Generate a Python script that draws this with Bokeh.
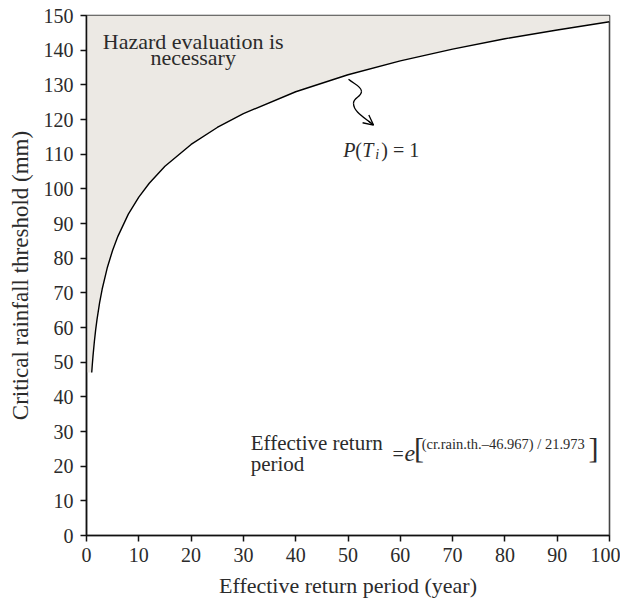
from bokeh.plotting import figure
from bokeh.models import FixedTicker, Arrow, OpenHead, Range1d
from bokeh.core.properties import value
from bokeh.embed import file_html
from bokeh.resources import INLINE

# Data
return_period = [1, 1.1, 1.25, 1.5, 1.75, 2, 2.5, 3, 4, 5, 6, 8, 10, 12, 15,
                 20, 25, 30, 40, 50, 60, 70, 80, 90, 100]
threshold = [47.0, 49.1, 51.9, 55.9, 59.3, 62.2, 67.1, 71.1, 77.4, 82.3, 86.3,
             92.7, 97.6, 101.6, 106.5, 112.8, 117.7, 121.7, 128.0, 132.9,
             136.9, 140.3, 143.3, 145.8, 148.2]
x_ticks = [0, 10, 20, 30, 40, 50, 60, 70, 80, 90, 100]
y_ticks = [0, 10, 20, 30, 40, 50, 60, 70, 80, 90, 100, 110, 120, 130, 140, 150]
x_min, x_max = 0, 100
y_min, y_max = 0, 150

FONT = "Liberation Serif"
TXT = "#2b2b2b"

p = figure(width=620, height=600,
           min_border_left=86, min_border_right=11, min_border_top=15, min_border_bottom=63,
           x_range=Range1d(x_min, x_max), y_range=Range1d(y_min, y_max),
           output_backend="svg", toolbar_location=None,
           background_fill_color="white", border_fill_color="white")
p.grid.visible = False
p.outline_line_color = "#444444"
p.outline_line_width = 1.6

for ax in (p.xaxis[0], p.yaxis[0]):
    ax.axis_line_color = "#111111"
    ax.axis_line_width = 1.5
    ax.major_tick_line_color = "#111111"
    ax.major_tick_line_width = 1.5
    ax.major_tick_out = 6
    ax.major_tick_in = 0
    ax.minor_tick_line_color = None
    ax.major_label_text_font = FONT
    ax.major_label_text_font_size = "20px"
    ax.major_label_text_color = TXT
    ax.axis_label_text_font = FONT
    ax.axis_label_text_font_style = "normal"
    ax.axis_label_text_color = TXT

p.xaxis.axis_label_text_font_size = "22px"
p.yaxis.axis_label_text_font_size = "23px"
p.xaxis.ticker = FixedTicker(ticks=x_ticks)
p.yaxis.ticker = FixedTicker(ticks=y_ticks)
p.xaxis.axis_label = "Effective return period (year)"
p.yaxis.axis_label = "Critical rainfall threshold (mm)"
p.xaxis.major_label_standoff = 6
p.yaxis.major_label_standoff = 7
p.xaxis.axis_label_standoff = 8
p.yaxis.axis_label_standoff = 8

# shaded region above the curve
fill_x = [x_min] + return_period + [x_max, x_min]
fill_y = [threshold[0]] + threshold + [y_max, y_max]
p.patch(fill_x, fill_y, fill_color="#ECE9E4", line_color=None)

# curve
p.line(return_period, threshold, line_color="black", line_width=1.4)

# texts
def txt(x, y, s, size, align="left", baseline="alphabetic", style="normal", xo=0, yo=0):
    p.text(x=[x], y=[y], text=[s], text_font=value(FONT), text_font_size=size,
           text_align=align, text_baseline=baseline, text_font_style=style,
           text_color=TXT, x_offset=xo, y_offset=yo)

txt(20.4, 142.4, "Hazard evaluation is", "22px", align="center")
txt(20.4, 137.8, "necessary", "22px", align="center")

# P(T_i) = 1
px0, py0 = 49.1, 111.1
txt(px0, py0, "P", "20px", style="italic")
txt(px0, py0, "(", "20px", xo=12)
txt(px0, py0, "T", "20px", style="italic", xo=19)
txt(px0, py0, "i", "14px", style="italic", xo=32, yo=4)
txt(px0, py0, ") = 1", "20px", xo=38)

# formula
txt(31.4, 26.6, "Effective return", "21px")
txt(31.4, 20.6, "period", "21px")
txt(58.5, 23.6, "=", "20px", baseline="middle")
txt(60.8, 23.6, "e", "24px", style="italic")
txt(62.6, 25.4, "[", "30px", baseline="middle")
txt(64.1, 26.3, "(cr.rain.th.\u201346.967) / 21.973", "14.5px", baseline="middle")
txt(96.0, 25.4, "]", "30px", baseline="middle")

# squiggly arrow
p.bezier(x0=[50.10, 52.58, 51.05], y0=[131.61, 128.16, 124.71],
         x1=[52.58, 51.05, 54.88], y1=[128.16, 124.71, 118.39],
         cx0=[51.24, 52.58, 51.05], cy0=[130.17, 126.44, 122.13],
         cx1=[52.58, 51.05, 53.35], cy1=[129.60, 126.44, 120.40],
         line_color="black", line_width=1.3)
p.add_layout(Arrow(end=OpenHead(size=10, line_color="black", line_width=1.3),
                   x_start=53.90, y_start=119.57, x_end=54.88, y_end=118.39,
                   line_color="black", line_width=1.3))

open("out.html", "w").write(file_html(p, INLINE))
